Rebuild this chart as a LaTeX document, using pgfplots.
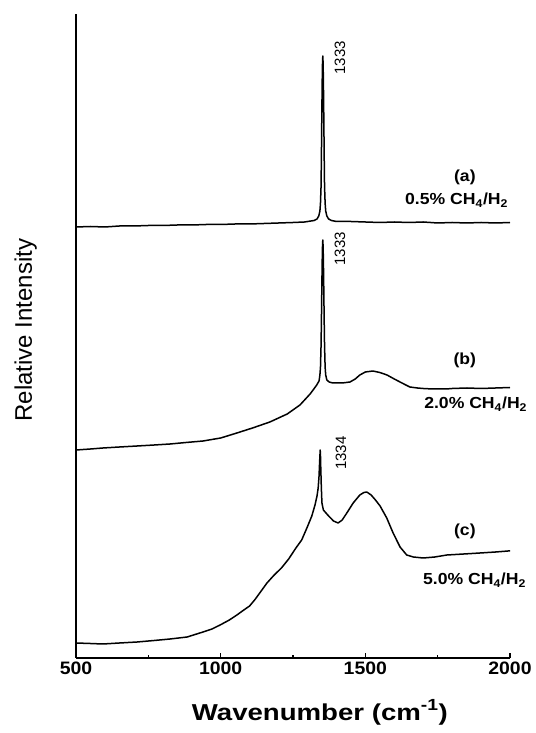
\documentclass[border=0pt]{standalone}
\usepackage{pgfplots}
\pgfplotsset{compat=1.18}
\usepackage{fontspec}
\setmainfont{Liberation Sans}
\begin{document}
\begin{tikzpicture}
\begin{axis}[
  at={(76pt,75pt)}, anchor=south west,
  scale only axis, width=434pt, height=644pt,
  xmin=500, xmax=2000, ymin=0, ymax=644,
  axis x line=bottom, axis y line=left,
  axis line style={-, line width=1.4pt, black},
  xtick={500,1000,1500,2000}, minor xtick={750,1250,1750},
  ytick=\empty,
  tick align=inside, major tick length=5pt, minor tick length=3pt,
  every tick/.style={black, line width=1.3pt},
  /pgf/number format/assume math mode=true,
  /pgf/number format/1000 sep={},
  xticklabel style={font=\fontsize{18}{20}\selectfont\bfseries, xscale=1.08},
  xlabel={Wavenumber (cm\textsuperscript{-1})},
  xlabel style={at={([yshift=-62pt]rel axis cs:0.562,0)}, anchor=base, font=\fontsize{23}{26}\selectfont\bfseries, xscale=1.2},
  ylabel={Relative Intensity},
  ylabel style={at={([xshift=-44pt]rel axis cs:0,0.509)}, anchor=base, font=\fontsize{24}{26}\selectfont},
  clip=false,
]
% (a) 0.5% CH4/H2
\addplot[black, line width=1.5pt, line join=round] coordinates {
(500,431) (550,431.5) (600,431) (650,432) (700,432) (750,432.5) (800,432.5) (850,433) (900,433) (950,433.5) (1000,433.5) (1050,434) (1100,434) (1150,434.5) (1200,435) (1250,435.5) (1290,436) (1323,437.5) (1333,439) (1339,442) (1343,447) (1345,455) (1347,472) (1348,497) (1349,525) (1350,553) (1351,578) (1352,595) (1353,602) (1354,595) (1355,578) (1356,553) (1357,525) (1358,497) (1359,472) (1361,455) (1363,447) (1367,442) (1373,439) (1383,437.5) (1400,436.5) (1450,436.5) (1500,436) (1550,435.5) (1600,436) (1650,435.5) (1700,436) (1750,435) (1800,435.5) (1850,435) (1900,435.5) (1950,435) (2000,435.5)
};
% (b) 2.0% CH4/H2
\addplot[black, line width=1.5pt, line join=round] coordinates {
(500,208) (550,209) (593,210) (650,211) (711,212) (770,213) (825,214) (880,215.5) (939,217) (1000,220) (1056,225) (1110,230) (1170,236) (1230,244) (1274,253) (1290,258) (1309,264) (1322,269) (1332,273) (1340,277) (1343,283) (1345,291) (1347,313) (1348,333) (1349,355) (1350,378) (1351,398) (1352,412) (1353,418) (1354,412) (1355,398) (1356,378) (1357,355) (1358,333) (1359,313) (1361,291) (1363,283) (1367,278) (1375,276) (1388,275) (1420,275) (1447,276) (1465,279) (1481,283) (1500,286) (1526,287) (1550,285.5) (1575,283) (1600,279) (1620,276) (1640,273) (1654,271) (1680,270) (1700,269.5) (1734,269) (1780,269) (1800,269.5) (1851,270) (1900,269.5) (1950,270) (2000,270.5)
};
% (c) 5.0% CH4/H2
\addplot[black, line width=1.5pt, line join=round] coordinates {
(500,15) (550,14.5) (593,14) (650,15) (711,16) (770,17.5) (825,19) (884,21) (939,26) (970,29) (998,33) (1030,38) (1056,43) (1080,48) (1100,52) (1120,59) (1140,67) (1160,75) (1185,83) (1210,90) (1235,99) (1260,110) (1280,118) (1298,130) (1315,142) (1326,153) (1333,162) (1337,170) (1340,182) (1342,196) (1344,208) (1345,202) (1346,190) (1348,170) (1350,155) (1355,148) (1370,143) (1390,137) (1406,135) (1420,138) (1436,145) (1458,155) (1481,163) (1495,165.5) (1505,166) (1520,163) (1535,158) (1551,152) (1574,140) (1596,125) (1620,111) (1643,103) (1666,101) (1700,100) (1740,101) (1782,103) (1840,104) (1896,105) (1950,106) (1993,107) (2000,107)
};
% peak labels
\node[rotate=90, font=\fontsize{15}{16}\selectfont] at (axis cs:1412,600) {1333};
\node[rotate=90, font=\fontsize{15}{16}\selectfont] at (axis cs:1412,409) {1333};
\node[rotate=90, font=\fontsize{15}{16}\selectfont] at (axis cs:1416,205) {1334};
% series labels
\node[font=\fontsize{16}{18}\selectfont\bfseries, xscale=1.1] at (axis cs:1844,481) {(a)};
\node[font=\fontsize{16}{18}\selectfont\bfseries, xscale=1.1, anchor=west, inner sep=0pt] at (axis cs:1637,458) {0.5\% CH\textsubscript{4}/H\textsubscript{2}};
\node[font=\fontsize{16}{18}\selectfont\bfseries, xscale=1.1] at (axis cs:1844,298) {(b)};
\node[font=\fontsize{16}{18}\selectfont\bfseries, xscale=1.1, anchor=west, inner sep=0pt] at (axis cs:1703,254) {2.0\% CH\textsubscript{4}/H\textsubscript{2}};
\node[font=\fontsize{16}{18}\selectfont\bfseries, xscale=1.1] at (axis cs:1844,127) {(c)};
\node[font=\fontsize{16}{18}\selectfont\bfseries, xscale=1.1, anchor=west, inner sep=0pt] at (axis cs:1699,78) {5.0\% CH\textsubscript{4}/H\textsubscript{2}};
\end{axis}
\path (0pt,0pt) rectangle (533pt,733pt);
\end{tikzpicture}
\end{document}
